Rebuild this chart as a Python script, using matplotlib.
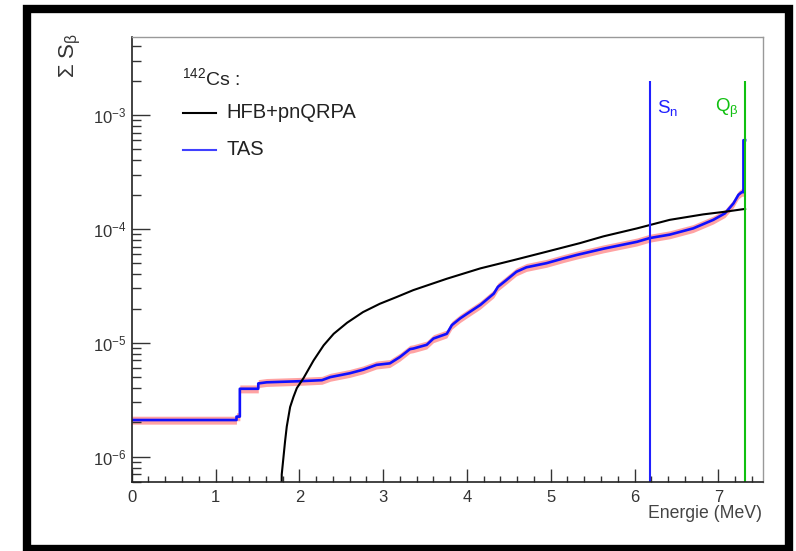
import numpy as np
import matplotlib
matplotlib.use("Agg")
import matplotlib.pyplot as plt
from matplotlib.patches import Rectangle
from matplotlib.ticker import LogLocator, MultipleLocator, FuncFormatter, NullFormatter

plt.rcParams['font.family'] = ['Liberation Sans', 'DejaVu Sans']
plt.rcParams['mathtext.fontset'] = 'custom'
plt.rcParams['mathtext.rm'] = 'Liberation Sans'
plt.rcParams['mathtext.it'] = 'Liberation Sans:italic'

# Datos TAS (suma acumulada, MeV)
tas_e = [0, 1.25, 1.25, 1.29, 1.29, 1.51, 1.51, 1.61, 2.0, 2.27, 2.37, 2.6, 2.76,
         2.92, 3.08, 3.2, 3.32, 3.36, 3.52, 3.6, 3.76, 3.82, 3.92, 4.04, 4.16,
         4.32, 4.37, 4.47, 4.59, 4.71, 4.95, 5.15, 5.31, 5.63, 6.03, 6.18, 6.42,
         6.70, 6.94, 7.08, 7.18, 7.24, 7.28, 7.30, 7.30, 7.32]
tas_s = [2.1e-6, 2.1e-6, 2.25e-6, 2.25e-6, 3.95e-6, 3.95e-6, 4.4e-6, 4.5e-6, 4.6e-6,
         4.7e-6, 5.0e-6, 5.4e-6, 5.8e-6, 6.4e-6, 6.6e-6, 7.5e-6, 8.8e-6, 8.9e-6,
         9.6e-6, 1.09e-5, 1.2e-5, 1.43e-5, 1.64e-5, 1.88e-5, 2.15e-5, 2.7e-5,
         3.1e-5, 3.55e-5, 4.2e-5, 4.6e-5, 5.0e-5, 5.5e-5, 5.9e-5, 6.7e-5, 7.7e-5,
         8.3e-5, 8.9e-5, 1.01e-4, 1.2e-4, 1.37e-4, 1.67e-4, 1.99e-4, 2.1e-4,
         2.1e-4, 6.0e-4, 6.0e-4]

# Datos HFB+pnQRPA
hfb_e = [1.78, 1.79, 1.83, 1.85, 1.89, 1.93, 1.97, 2.05, 2.17, 2.29, 2.41, 2.57,
         2.76, 2.96, 3.16, 3.36, 3.76, 4.16, 4.55, 4.95, 5.35, 5.63, 6.03, 6.42,
         6.82, 7.10, 7.30, 7.32]
hfb_s = [1e-7, 7.0e-7, 1.37e-6, 1.84e-6, 2.73e-6, 3.35e-6, 4.0e-6, 4.9e-6, 7.0e-6,
         9.5e-6, 1.2e-5, 1.5e-5, 1.86e-5, 2.2e-5, 2.52e-5, 2.9e-5, 3.65e-5,
         4.5e-5, 5.3e-5, 6.3e-5, 7.5e-5, 8.6e-5, 1.01e-4, 1.2e-4, 1.34e-4,
         1.42e-4, 1.49e-4, 1.5e-4]

s_n = 6.18
q_beta = 7.32
band = 0.08

fig = plt.figure(figsize=(7.96, 5.51), dpi=100)
ax = fig.add_axes([0.1655, 0.1252, 0.7927, 0.8082])

tas_e = np.array(tas_e)
tas_s = np.array(tas_s)
ax.fill_between(tas_e, tas_s * (1 - band), tas_s * (1 + band), color='#ff6666',
                alpha=0.6, lw=0)
ax.plot(tas_e, tas_s, color='#1010ff', lw=1.9)
ax.plot(hfb_e, hfb_s, color='black', lw=1.5)

ax.vlines(s_n, 1e-7, 2e-3, color='#2020ff', lw=1.5)
ax.vlines(q_beta, 1e-7, 2e-3, color='#10c010', lw=1.5)
ax.text(6.27, 1.15e-3, r'S$_\mathregular{n}$', color='#2020ff', fontsize=13.5, va='center')
ax.text(6.96, 1.15e-3, r'Q$_\mathregular{\beta}$', color='#10c010', fontsize=13.5, va='center')

ax.set_yscale('log')
ax.set_xlim(0, 7.53)
ax.set_ylim(6.0e-7, 4.86e-3)

ax.xaxis.set_major_locator(MultipleLocator(1))
ax.xaxis.set_minor_locator(MultipleLocator(0.2))
ax.yaxis.set_major_locator(LogLocator(base=10))
ax.yaxis.set_minor_locator(LogLocator(base=10, subs=np.arange(2, 10)))
ax.yaxis.set_minor_formatter(NullFormatter())
ax.yaxis.set_major_formatter(FuncFormatter(
    lambda v, p: r'$\mathregular{10^{%d}}$' % int(round(np.log10(v)))))

ax.tick_params(axis='both', which='both', direction='in', top=False, right=False,
               labelsize=12, labelcolor='#333333', color='#333333')
ax.tick_params(axis='y', which='major', length=13, width=1, pad=4)
ax.tick_params(axis='y', which='minor', length=6.5, width=1)
ax.tick_params(axis='x', which='major', length=9.5, width=1, pad=6)
ax.tick_params(axis='x', which='minor', length=4.5, width=1)

for s in ['left', 'bottom']:
    ax.spines[s].set_color('#222222')
    ax.spines[s].set_linewidth(1.2)
for s in ['top', 'right']:
    ax.spines[s].set_color('#999999')
    ax.spines[s].set_linewidth(1.0)

# leyenda manual
ax.text(0.0797, 0.907, r'$\mathregular{^{142}}$Cs :', transform=ax.transAxes,
        fontsize=14, color='#222222', va='center', ha='left')
ax.plot([0.0813, 0.1336], [0.8287, 0.8287], transform=ax.transAxes, color='black', lw=1.5)
ax.text(0.1494, 0.8287, 'HFB+pnQRPA', transform=ax.transAxes, fontsize=14.5,
        color='#222222', va='center', ha='left')
ax.plot([0.0813, 0.1336], [0.7456, 0.7456], transform=ax.transAxes, color='#4040ff', lw=1.5)
ax.text(0.1494, 0.7456, 'TAS', transform=ax.transAxes, fontsize=14.5,
        color='#222222', va='center', ha='left')

fig.text(762 / 796, 1 - 513 / 551, 'Energie (MeV)', ha='right', va='center',
         fontsize=12.7, color='#444444')
fig.text(70 / 796, 1 - 33 / 551, r'$\mathregular{\Sigma}$ S$_\mathregular{\beta}$',
         rotation=90, ha='center', va='top', fontsize=16, color='#333333')

# marco negro
fig.patches.append(Rectangle((27.5 / 796, 2.5 / 551), (789 - 27.5) / 796,
                             (542 - 2.5) / 551, transform=fig.transFigure,
                             fill=False, edgecolor='black', lw=6))

fig.savefig('out.png', dpi=100)
